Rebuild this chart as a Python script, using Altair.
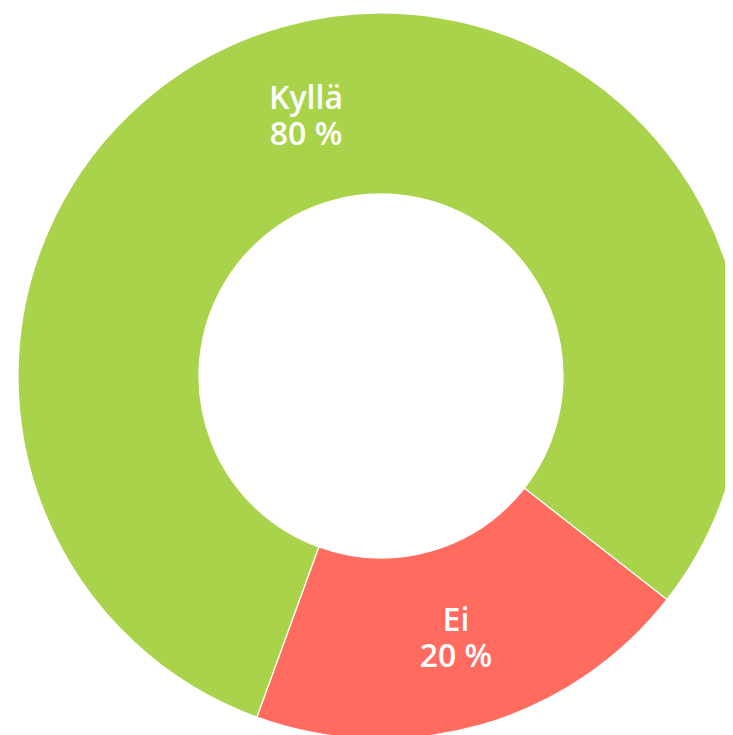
import altair as alt
import pandas as pd
import math

categories = ["Ei", "Kyllä"]
values = [20, 80]
labels = ["20 %", "80 %"]
colors = ["#ff6b5f", "#a9d34a"]

df = pd.DataFrame({"cat": categories, "val": values, "pct": labels,
                   "order": [0, 1]})
df["label"] = [[c, p] for c, p in zip(df["cat"], df["pct"])]

start = math.radians(128)
theta_scale = alt.Scale(range=[start, start + 2 * math.pi])

base = alt.Chart(df).encode(
    theta=alt.Theta("val:Q", stack=True, scale=theta_scale),
    order=alt.Order("order:Q"),
    x=alt.value(373),
    y=alt.value(368),
)

arcs = base.mark_arc(radius=363, radius2=182, stroke="white", strokeWidth=1.2).encode(
    color=alt.Color("cat:N", scale=alt.Scale(domain=categories, range=colors), legend=None)
)

text = base.mark_text(radius=272, dy=-16, color="white", fontSize=32, font="Open Sans",
                      fontWeight=600, lineHeight=36, baseline="middle", align="center").encode(
    text="label"
)

chart = (arcs + text).properties(
    width=717, height=736, padding=0,
    autosize=alt.AutoSizeParams(type="none"),
).configure_view(stroke=None)

chart.save("out.html", embed_options={"renderer": "svg", "actions": False})
